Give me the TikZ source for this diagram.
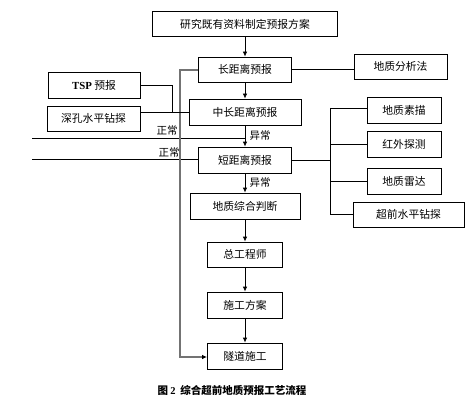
\documentclass[tikz,border=0pt]{standalone}
\usepackage{fontspec}
\setmainfont{Liberation Serif}
\newfontfamily\cjk{Noto Sans CJK SC}
\usetikzlibrary{arrows.meta}
\tikzset{
  box/.style={draw,line width=0.8pt,inner sep=0pt,minimum height=25pt,
    font=\cjk\fontsize{10.8}{12}\selectfont},
  flow/.style={line width=0.8pt,-{Latex[length=5pt,width=4.5pt]}},
  link/.style={line width=0.8pt},
}
\begin{document}
\begin{tikzpicture}[x=1pt,y=-1pt]
\useasboundingbox (0,0) rectangle (476,401);
\node[box,minimum width=185pt] (plan) at (245,24) {研究既有资料制定预报方案};
\node[box,minimum width=93pt] (longf) at (245,69.5) {长距离预报};
\node[box,minimum width=93pt] (geoan) at (400.5,66.5) {地质分析法};
\node[box,minimum width=92pt,minimum height=26pt] (tsp) at (94,85) {{\rmfamily\bfseries TSP} 预报};
\node[box,minimum width=93pt] (deep) at (93.5,118.5) {深孔水平钻探};
\node[box,minimum width=112pt,minimum height=26pt] (midf) at (245,112) {中长距离预报};
\node[box,minimum width=74pt,minimum height=26pt] (sketch) at (404,110) {地质素描};
\node[box,minimum width=74pt,minimum height=26pt] (infra) at (404,144) {红外探测};
\node[box,minimum width=74pt,minimum height=26pt] (radar) at (404,181) {地质雷达};
\node[box,minimum width=93pt,minimum height=26pt] (shortf) at (245,160) {短距离预报};
\node[box,minimum width=110pt,minimum height=26pt] (judge) at (245,206) {地质综合判断};
\node[box,minimum width=111pt] (drill) at (408.5,214.5) {超前水平钻探};
\node[box,minimum width=75pt] (chief) at (245,254.5) {总工程师};
\node[box,minimum width=75pt,minimum height=26pt] (scheme) at (245,305) {施工方案};
\node[box,minimum width=75pt,minimum height=26pt] (tunnel) at (245,356) {隧道施工};
\node[font=\cjk\bfseries\fontsize{10.5}{12}\selectfont] (caption) at (232,390) {图\ {\rmfamily\bfseries 2}\ \ 综合超前地质预报工艺流程};
% main flow
\draw[flow] (plan) -- (longf);
\draw[flow] (longf) -- (midf);
\draw[flow] (midf) -- (shortf) node[midway,right=1pt,font=\cjk\fontsize{10.5}{12}\selectfont] {异常};
\draw[flow] (shortf) -- (judge) node[midway,right=1pt,font=\cjk\fontsize{10.5}{12}\selectfont] {异常};
\draw[flow] (judge) -- (chief);
\draw[flow] (chief) -- (scheme);
\draw[flow] (scheme) -- (tunnel);
% normal branches
\coordinate (n1a) at (32,138);
\coordinate (n1b) at (245,138);
\coordinate (n2a) at (32,159.5);
\draw[link] (n1a) -- (n1b);
\draw[link] (n2a) -- (n2a -| shortf.west);
\node[font=\cjk\fontsize{10.5}{12}\selectfont] (ok1) at (167,131) {正常};
\node[font=\cjk\fontsize{10.5}{12}\selectfont] (ok2) at (169,153) {正常};
% bypass
\coordinate (byt) at (180,70);
\coordinate (byb) at (180,357);
\draw[black!55,line width=1.3pt,-{Latex[length=5pt,width=4.5pt,black]}] (longf.west |- byt) -- (byt) -- (byb) -- (tunnel.west |- byb);
% left inputs
\coordinate (join) at (172,112);
\draw[link] (tsp.east) -| (join);
\draw[link] (midf.west) -- (midf.west -| deep.east);
% right methods
\draw[link] (longf.east) -- (longf.east -| geoan.west);
\coordinate (bust) at (330,108);
\coordinate (busb) at (330,214.5);
\draw[link] (bust) -- (busb);
\draw[link] (shortf.east) -- (shortf.east -| bust);
\draw[link] (bust) -- (bust -| sketch.west);
\draw[link] (infra.west) -- (infra.west -| bust);
\draw[link] (radar.west) -- (radar.west -| bust);
\draw[link] (busb) -- (drill.west);
\end{tikzpicture}
\end{document}
